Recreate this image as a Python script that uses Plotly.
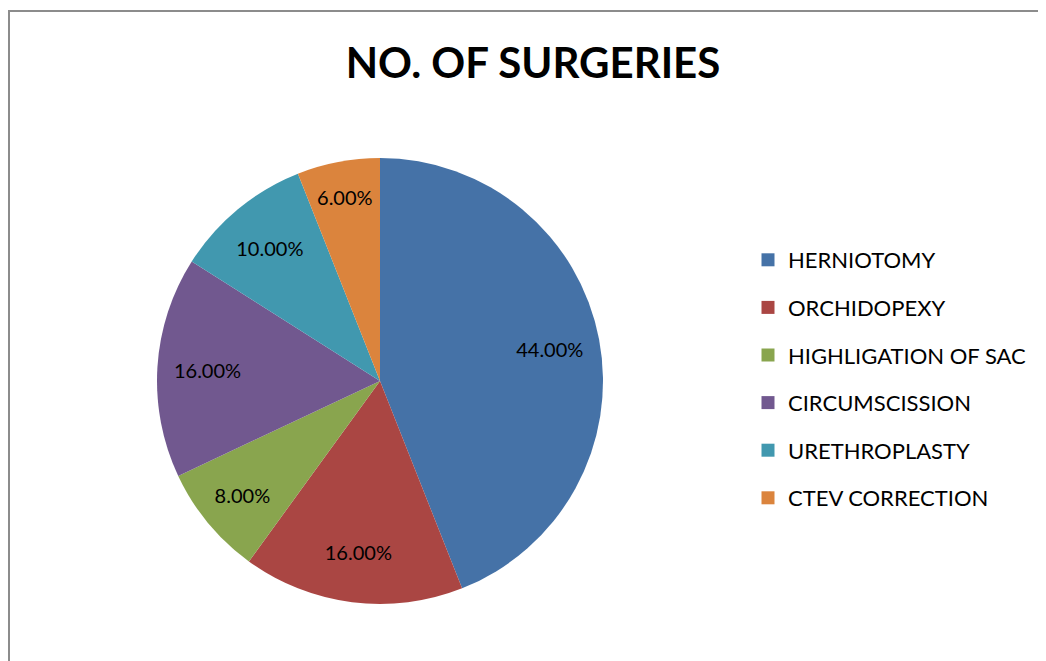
import plotly.graph_objects as go

surgeries = ['HERNIOTOMY', 'ORCHIDOPEXY', 'HIGHLIGATION OF SAC',
             'CIRCUMSCISSION', 'URETHROPLASTY', 'CTEV CORRECTION']
share = [44, 16, 8, 16, 10, 6]
colors = ['#4572A7', '#AA4643', '#89A54E', '#71588F', '#4198AF', '#DB843D']

W, H = 1046, 661
font = 'Lato'
pie_dom = dict(x=[149 / W, 595 / W], y=[1 - 596 / H, 1 - 150 / H])

fig = go.Figure()
fig.add_trace(go.Pie(
    labels=surgeries,
    values=share,
    sort=False,
    direction='clockwise',
    rotation=0,
    marker=dict(colors=colors),
    textinfo='none',
    hoverinfo='label+percent',
    showlegend=False,
    domain=pie_dom,
))

# transparent ring on top, only to push the percent labels outwards
fig.add_trace(go.Pie(
    labels=surgeries,
    values=share,
    sort=False,
    direction='clockwise',
    rotation=0,
    hole=0.55,
    marker=dict(colors=['rgba(0,0,0,0)'] * len(share), line=dict(width=0)),
    texttemplate='%{percent:.2%}',
    textposition='inside',
    insidetextorientation='horizontal',
    textfont=dict(family=font, size=20, color='black'),
    hoverinfo='skip',
    showlegend=False,
    domain=pie_dom,
))

# legend entries as dummy traces so the row spacing can be set
for name, c in zip(surgeries, colors):
    fig.add_trace(go.Scatter(
        x=[None], y=[None], mode='markers', name=name,
        legendgroup=name,
        marker=dict(symbol='square', size=13, color=c),
    ))

fig.update_layout(
    width=W, height=H,
    margin=dict(l=0, r=0, t=0, b=0),
    paper_bgcolor='white',
    plot_bgcolor='white',
    uniformtext=dict(minsize=20, mode='show'),
    title=dict(text='<b>NO. OF SURGERIES</b>', x=525 / W, xanchor='center',
               y=1 - 55 / H, yanchor='middle',
               font=dict(family=font, size=42, color='black')),
    xaxis=dict(visible=False),
    yaxis=dict(visible=False),
    legend=dict(x=740 / W, xanchor='left', y=1 - 231 / H, yanchor='top',
                font=dict(family=font, size=22, color='black'),
                itemwidth=30, tracegroupgap=16,
                itemclick=False, itemdoubleclick=False),
    shapes=[dict(type='rect', xref='paper', yref='paper',
                 x0=1 / W, x1=1.05, y0=-0.05, y1=1 - 3 / H,
                 line=dict(color='#8c8c8c', width=2))],
)

fig.write_html('out.html')
